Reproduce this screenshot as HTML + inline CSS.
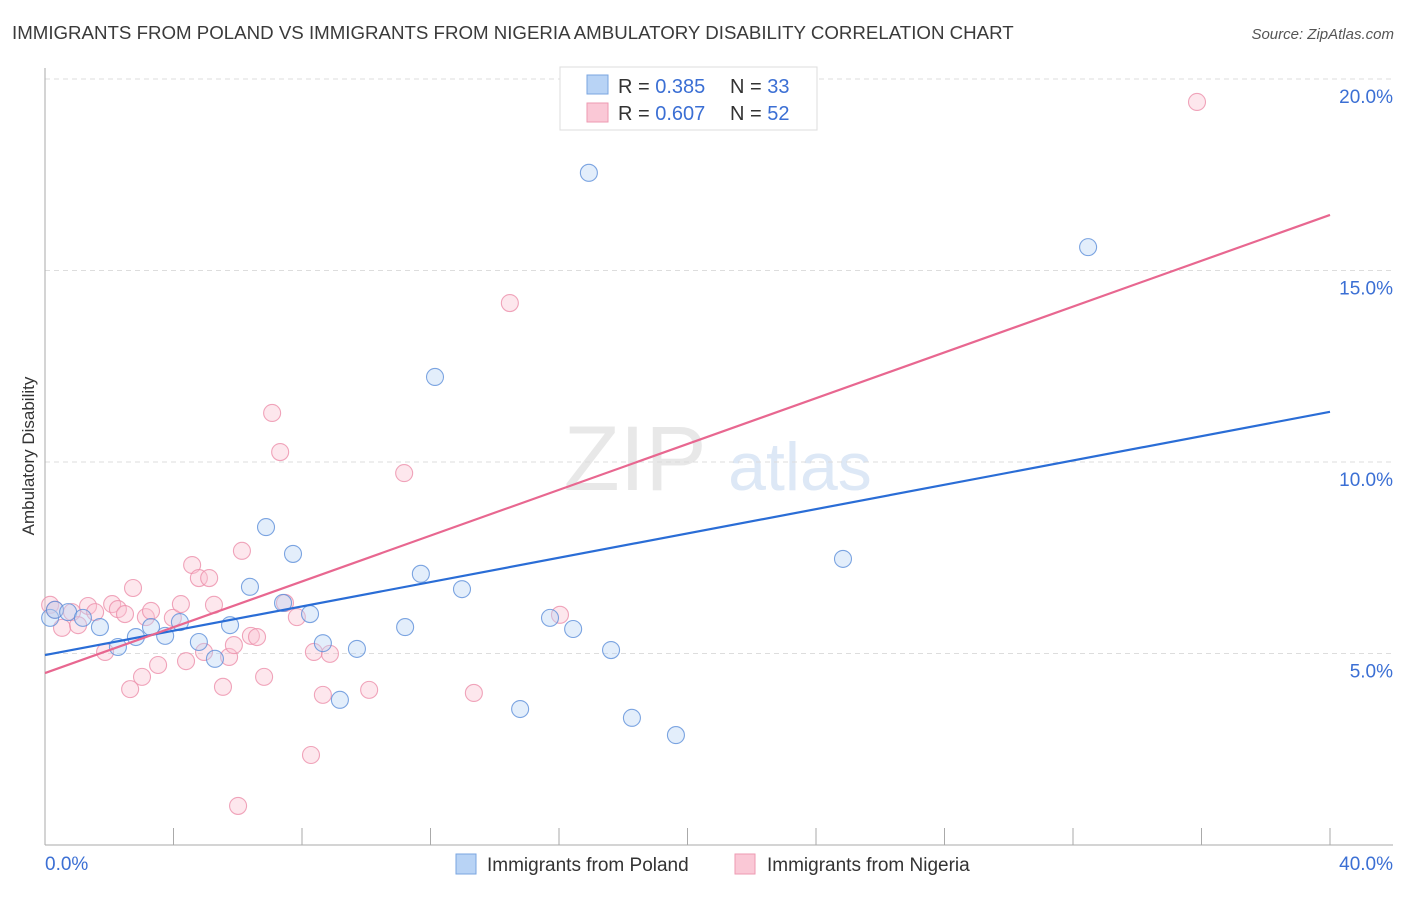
<!DOCTYPE html>
<html><head><meta charset="utf-8"><style>
body{margin:0;background:#fff;font-family:"Liberation Sans",sans-serif;}
svg text{font-family:"Liberation Sans",sans-serif;}
</style></head><body>
<svg id="chart" width="1406" height="892" xmlns="http://www.w3.org/2000/svg">
<text x="12" y="39" font-size="18.7" fill="#3a3a3a">IMMIGRANTS FROM POLAND VS IMMIGRANTS FROM NIGERIA AMBULATORY DISABILITY CORRELATION CHART</text>
<text x="1394" y="39" font-size="15" fill="#555" font-style="italic" text-anchor="end">Source: ZipAtlas.com</text>
<text x="0" y="0" transform="translate(34,456) rotate(-90)" font-size="17" fill="#333" text-anchor="middle">Ambulatory Disability</text>
<g><text x="635" y="490" font-size="92" fill="#e8e8e8" font-family="Liberation Serif" text-anchor="middle">ZIP</text><text x="800" y="490" font-size="68" fill="#dde8f6" text-anchor="middle">atlas</text></g>
<g id="grid"></g><g id="axes"></g><g id="pts"></g><g id="lines"></g>
<g>
<rect x="560" y="67" width="257" height="63" fill="#fff" stroke="#ddd"/>
<rect x="587" y="75" width="21" height="19" fill="#b8d3f5" stroke="#7aa6e0"/>
<rect x="587" y="103" width="21" height="19" fill="#fac8d6" stroke="#ee9ab2"/>
<text x="618" y="93" font-size="20" fill="#333">R = <tspan fill="#3b6fd4">0.385</tspan><tspan x="730">N = </tspan><tspan fill="#3b6fd4">33</tspan></text>
<text x="618" y="120" font-size="20" fill="#333">R = <tspan fill="#3b6fd4">0.607</tspan><tspan x="730">N = </tspan><tspan fill="#3b6fd4">52</tspan></text>
</g>
<g>
<rect x="456" y="854" width="20" height="20" fill="#b8d3f5" stroke="#7aa6e0"/>
<text x="487" y="871" font-size="19" fill="#333">Immigrants from Poland</text>
<rect x="735" y="854" width="20" height="20" fill="#fac8d6" stroke="#ee9ab2"/>
<text x="767" y="871" font-size="19" fill="#333">Immigrants from Nigeria</text>
</g>
</svg>
<script>
const blueX=[0.16,0.31,0.72,1.18,1.71,2.27,2.83,3.30,3.74,4.20,4.79,5.29,5.76,6.38,6.88,7.41,7.72,8.25,8.65,9.18,9.71,11.21,11.70,12.14,12.98,14.79,15.72,16.44,16.93,17.62,18.27,19.64,24.84,32.47];
const blueY=[5.93,6.14,6.08,5.93,5.69,5.17,5.43,5.69,5.46,5.82,5.30,4.86,5.74,6.74,8.30,6.32,7.60,6.03,5.27,3.79,5.12,5.69,7.08,12.22,6.68,3.55,5.93,5.64,17.55,5.09,3.32,2.87,7.47,15.61];
const pinkX=[0.16,0.31,0.53,0.84,1.03,1.34,1.56,1.87,2.09,2.27,2.49,2.65,2.74,3.02,3.14,3.30,3.52,3.98,4.23,4.39,4.58,4.79,4.95,5.11,5.26,5.54,5.73,5.88,6.01,6.13,6.41,6.60,6.82,7.07,7.32,7.47,7.84,8.28,8.37,8.65,8.87,10.09,11.18,13.35,14.47,16.03,35.86];
const pinkY=[6.27,6.14,5.67,6.08,5.74,6.24,6.08,5.04,6.29,6.16,6.03,4.07,6.71,4.39,5.95,6.11,4.70,5.93,6.29,4.80,7.31,6.97,5.04,6.97,6.27,4.13,4.91,5.22,1.02,7.68,5.46,5.43,4.39,11.28,10.26,6.32,5.95,2.35,5.04,3.92,4.99,4.05,9.71,3.97,14.15,6.01,19.40];
const blueTrend=[4.96,11.31];
const pinkTrend=[4.49,16.45];
const yTicks=[5,10,15,20];
const xTickVals=[0,4,8,12,16,20,24,28,32,36,40];
const NS="http://www.w3.org/2000/svg";
const sx=v=>45+v/40*1285;
const sy=v=>845-v/5*191.5;
function mk(tag,attrs,parent){const e=document.createElementNS(NS,tag);for(const k in attrs)e.setAttribute(k,attrs[k]);document.getElementById(parent).appendChild(e);return e;}
yTicks.forEach(t=>{
 const l=mk('line',{x1:45,x2:1393,y1:sy(t),y2:sy(t),stroke:'#ddd','stroke-dasharray':'5,4'},'grid');
 
 
 const tx=mk('text',{x:1393,y:sy(t)+24,'font-size':19,fill:'#3b6fd4','text-anchor':'end'},'grid');
 tx.textContent=t.toFixed(1)+'%';
 
 
});
const ax=mk('line',{x1:45,x2:1393,y1:845,y2:845,stroke:'#aaa'},'axes');


const ay=mk('line',{x1:45,x2:45,y1:68,y2:845,stroke:'#aaa'},'axes');


xTickVals.forEach(t=>{
 const l=mk('line',{x1:sx(t),x2:sx(t),y1:828,y2:845,stroke:'#aaa'},'axes');
 
 
});
[[0,'0.0%','start',45],[40,'40.0%','end',1393]].forEach(a=>{
 const t=mk('text',{x:a[3],y:870,'font-size':19,fill:'#3b6fd4','text-anchor':a[2]},'axes');
 t.textContent=a[1];
 
 
});
function pts(X,Y,fill,stroke,name){
 X.forEach((x,i)=>{
  const c=mk('circle',{cx:sx(x),cy:sy(Y[i]),r:8.5,fill:fill,'fill-opacity':0.4,stroke:stroke,'stroke-opacity':0.8,'stroke-width':1.1},'pts');
  
  
 });
}
pts(pinkX,pinkY,'#f9c3d3','#ec8eaa','nigeria-point');
pts(blueX,blueY,'#bad4f4','#5d8fd9','poland-point');
const bl=mk('line',{x1:sx(0),y1:sy(blueTrend[0]),x2:sx(40),y2:sy(blueTrend[1]),stroke:'#2a6dd6','stroke-width':2.2},'lines');


const pl=mk('line',{x1:sx(0),y1:sy(pinkTrend[0]),x2:sx(40),y2:sy(pinkTrend[1]),stroke:'#e86790','stroke-width':2.2},'lines');


</script>
</body></html>
